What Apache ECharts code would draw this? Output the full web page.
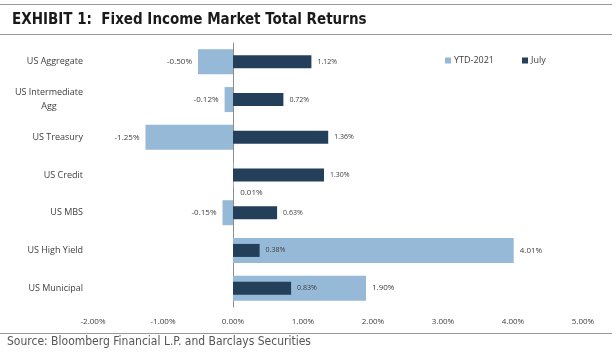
<!DOCTYPE html>
<html>
<head>
<meta charset="utf-8">
<script src="https://cdn.jsdelivr.net/npm/echarts@6/dist/echarts.min.js"></script>
<style>
  html, body { margin: 0; padding: 0; background: #fff; }
  #chart { width: 615px; height: 354px; }
</style>
</head>
<body>
<div id="chart"></div>
<script>
const categories = ['US Aggregate', 'US Intermediate\nAgg', 'US Treasury', 'US Credit', 'US MBS', 'US High Yield', 'US Municipal'];
const ytd2021 = [-0.50, -0.12, -1.25, 0.01, -0.15, 4.01, 1.90];
const july = [1.12, 0.72, 1.36, 1.30, 0.63, 0.38, 0.83];
const xTicks = [-2, -1, 0, 1, 2, 3, 4, 5];

const lightBlue = '#95b9d7';
const navy = '#233f5a';
const textGray = '#404040';

const pct = v => v.toFixed(2) + '%';

const chart = echarts.init(document.getElementById('chart'), null, { renderer: 'canvas' });

const ytdData = ytd2021.map(function (v, i) {
    let label = { position: v < 0 ? 'left' : 'right' };
    // the tiny credit value sits underneath its bar
    if (categories[i] === 'US Credit') {
        label = { position: 'bottom', offset: [18, -5] };
    }
    return { value: v, label: label };
});

const option = {
    backgroundColor: '#fff',
    animation: false,
    title: {
        text: 'EXHIBIT 1:  Fixed Income Market Total Returns',
        left: 7,
        top: 8,
        textStyle: {
            fontFamily: 'Liberation Sans Narrow, DejaVu Sans Condensed, Roboto',
            fontSize: 15,
            fontWeight: 'bold',
            color: '#1a1a1a'
        }
    },
    graphic: [
        { type: 'line', shape: { x1: 0, y1: 4.5, x2: 612, y2: 4.5 }, style: { stroke: '#9a9a9a', lineWidth: 1 } },
        { type: 'line', shape: { x1: 0, y1: 34.5, x2: 612, y2: 34.5 }, style: { stroke: '#9a9a9a', lineWidth: 1 } },
        { type: 'line', shape: { x1: 0, y1: 333.5, x2: 612, y2: 333.5 }, style: { stroke: '#9a9a9a', lineWidth: 1 } },
        {
            type: 'text', left: 7, top: 336,
            style: {
                text: 'Source: Bloomberg Financial L.P. and Barclays Securities',
                font: '12px "Liberation Sans Narrow", "DejaVu Sans Condensed", Roboto',
                fill: '#555'
            }
        }
    ],
    legend: {
        left: 440,
        top: 51,
        itemWidth: 6,
        itemHeight: 6,
        itemGap: 28,
        itemStyle: { borderWidth: 0 },
        icon: 'rect',
        textStyle: { fontSize: 9, color: textGray, fontFamily: 'Open Sans', padding: [0, 0, 0, -2] },
        data: ['YTD-2021', 'July']
    },
    grid: {
        left: 93,
        right: 32,
        top: 43,
        bottom: 47
    },
    xAxis: {
        type: 'value',
        min: -2,
        max: 5,
        interval: 1,
        axisLine: { show: false },
        axisTick: { show: false },
        splitLine: { show: false },
        axisLabel: {
            margin: 11,
            fontSize: 8,
            color: textGray,
            fontFamily: 'Open Sans',
            formatter: v => xTicks.indexOf(v) >= 0 ? pct(v) : ''
        }
    },
    yAxis: [
        {
            type: 'category',
            data: categories,
            inverse: true,
            axisLine: { lineStyle: { color: '#8c8c8c' } },
            axisTick: { length: 4, lineStyle: { color: '#8c8c8c' } },
            axisLabel: {
                margin: 10,
                fontSize: 9,
                lineHeight: 14,
                color: textGray,
                fontFamily: 'Open Sans',
                formatter: function (v) {
                    if (v.indexOf('\n') < 0) return v;
                    return v.split('\n').map(s => '{c|' + s + '}').join('\n');
                },
                rich: {
                    c: { width: 68, align: 'center', fontSize: 9, lineHeight: 14, color: textGray, fontFamily: 'Open Sans' }
                }
            }
        },
        {
            type: 'category',
            data: categories,
            inverse: true,
            show: false
        }
    ],
    series: [
        {
            name: 'YTD-2021',
            type: 'bar',
            yAxisIndex: 0,
            barWidth: 25,
            itemStyle: { color: lightBlue },
            label: {
                show: true,
                distance: 6,
                fontSize: 8,
                color: textGray,
                fontFamily: 'Open Sans',
                formatter: p => pct(p.value)
            },
            data: ytdData
        },
        {
            name: 'July',
            type: 'bar',
            yAxisIndex: 1,
            barWidth: 13,
            itemStyle: { color: navy },
            label: {
                show: true,
                position: 'right',
                distance: 6,
                fontSize: 7,
                color: textGray,
                fontFamily: 'Open Sans',
                formatter: p => pct(p.value)
            },
            data: july
        }
    ]
};

option && chart.setOption(option);
</script>
</body>
</html>
